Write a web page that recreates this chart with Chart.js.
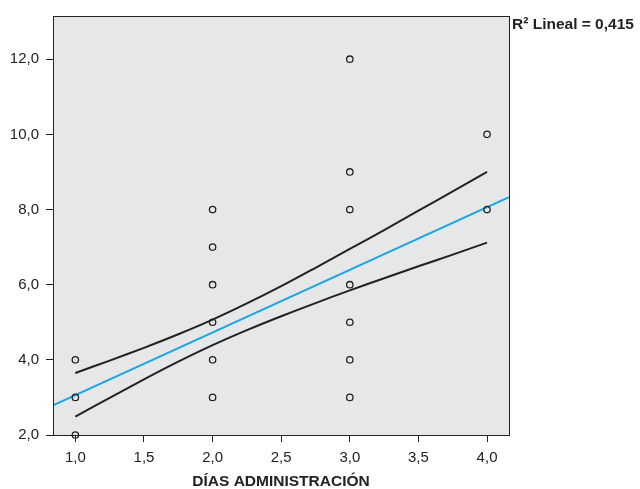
<!DOCTYPE html>
<html lang="es">
<head>
<meta charset="utf-8">
<title>Días administración</title>
<script src="https://cdn.jsdelivr.net/npm/chart.js@4.4.1/dist/chart.umd.min.js"></script>
<style>
  html, body { margin: 0; padding: 0; background: #fff; }
  #wrap { position: relative; width: 640px; height: 489px; }
</style>
</head>
<body>
<div id="wrap"><canvas id="chart" width="640" height="489"></canvas></div>
<script>
// --- datos ---
const diasX  = [1, 1, 1, 2, 2, 2, 2, 2, 2, 3, 3, 3, 3, 3, 3, 3, 4, 4];
const valorY = [2, 3, 4, 3, 4, 5, 6, 7, 8, 3, 4, 5, 6, 8, 9, 12, 8, 10];

// recta de ajuste lineal (de borde a borde del área)
const ajusteX = [0.837, 4.16];
const ajusteY = [2.79, 8.33];

// intervalo de confianza (curvas negras)
const bandaX   = [1, 1.25, 1.5, 1.75, 2, 2.25, 2.5, 2.75, 3, 3.25, 3.5, 3.75, 4];
const bandaSup = [3.65, 3.98, 4.32, 4.68, 5.07, 5.50, 5.96, 6.45, 6.95, 7.45, 7.97, 8.48, 9.00];
const bandaInf = [2.49, 2.99, 3.48, 3.95, 4.39, 4.79, 5.16, 5.51, 5.85, 6.17, 6.49, 6.80, 7.12];

const ticksX = [1, 1.5, 2, 2.5, 3, 3.5, 4];
const ticksY = [2, 4, 6, 8, 10, 12];
const rotuloR2 = 'R² Lineal = 0,415';

const pares = (xs, ys) => xs.map((x, i) => ({ x, y: ys[i] }));
const coma = v => Number(v).toFixed(1).replace('.', ',');

const TXT = '#222';
const FUENTE = '"Liberation Sans", Arial, sans-serif';

// fondo gris + marco del área de trazado + rótulo R²
const marco = {
  id: 'marco',
  beforeDraw(chart) {
    const { ctx, chartArea: a } = chart;
    ctx.save();
    ctx.fillStyle = '#e6e7e9';
    ctx.fillRect(a.left, a.top, a.right - a.left, a.bottom - a.top);
    ctx.restore();
  },
  afterDraw(chart) {
    const { ctx, chartArea: a } = chart;
    ctx.save();
    ctx.strokeStyle = TXT;
    ctx.lineWidth = 1;
    ctx.strokeRect(a.left + 0.5, a.top + 0.5, a.right - a.left, a.bottom - a.top);
    ctx.fillStyle = TXT;
    ctx.font = 'bold 15.5px ' + FUENTE;
    ctx.textBaseline = 'alphabetic';
    ctx.fillText(rotuloR2, 512, 29);
    ctx.restore();
  }
};

new Chart(document.getElementById('chart'), {
  type: 'scatter',
  data: {
    datasets: [
      {
        label: 'Observado',
        data: pares(diasX, valorY),
        showLine: false,
        pointStyle: 'circle',
        pointRadius: 3.2,
        pointBorderWidth: 1.3,
        pointBorderColor: TXT,
        pointBackgroundColor: 'rgba(0,0,0,0)',
        clip: false,
        order: 0
      },
      {
        label: 'Lineal',
        data: pares(ajusteX, ajusteY),
        showLine: true,
        borderColor: '#1ba6e0',
        borderWidth: 2,
        pointRadius: 0,
        order: 1
      },
      {
        label: 'IC sup',
        data: pares(bandaX, bandaSup),
        showLine: true,
        borderColor: '#222',
        borderWidth: 2,
        pointRadius: 0,
        tension: 0.3,
        order: 2
      },
      {
        label: 'IC inf',
        data: pares(bandaX, bandaInf),
        showLine: true,
        borderColor: '#222',
        borderWidth: 2,
        pointRadius: 0,
        tension: 0.3,
        order: 2
      }
    ]
  },
  options: {
    responsive: false,
    animation: false,
    devicePixelRatio: 1,
    layout: { padding: { top: 13, right: 131, left: 0, bottom: 0 } },
    plugins: { legend: { display: false }, tooltip: { enabled: false } },
    scales: {
      x: {
        type: 'linear',
        min: 0.837,
        max: 4.16,
        afterBuildTicks: s => { s.ticks = ticksX.map(v => ({ value: v })); },
        afterFit: s => { s.height = 54; },
        ticks: {
          callback: coma,
          color: TXT,
          font: { family: FUENTE, size: 15 },
          padding: 7,
          maxRotation: 0,
          autoSkip: false
        },
        grid: { drawOnChartArea: false, drawTicks: true, tickLength: 7, color: TXT, lineWidth: 1 },
        border: { display: true, color: TXT, width: 1 },
        title: {
          display: true,
          text: 'DÍAS ADMINISTRACIÓN',
          color: TXT,
          font: { family: FUENTE, size: 15.5, weight: 'bold', lineHeight: 1 },
          padding: { top: 0, bottom: 0 }
        }
      },
      y: {
        type: 'linear',
        min: 2,
        max: 13.15,
        afterBuildTicks: s => { s.ticks = ticksY.map(v => ({ value: v })); },
        afterFit: s => { s.width = 53; },
        ticks: {
          callback: coma,
          color: TXT,
          font: { family: FUENTE, size: 15 },
          padding: 7,
          autoSkip: false
        },
        grid: { drawOnChartArea: false, drawTicks: true, tickLength: 7, color: TXT, lineWidth: 1 },
        border: { display: true, color: TXT, width: 1 }
      }
    }
  },
  plugins: [marco]
});
</script>
</body>
</html>
